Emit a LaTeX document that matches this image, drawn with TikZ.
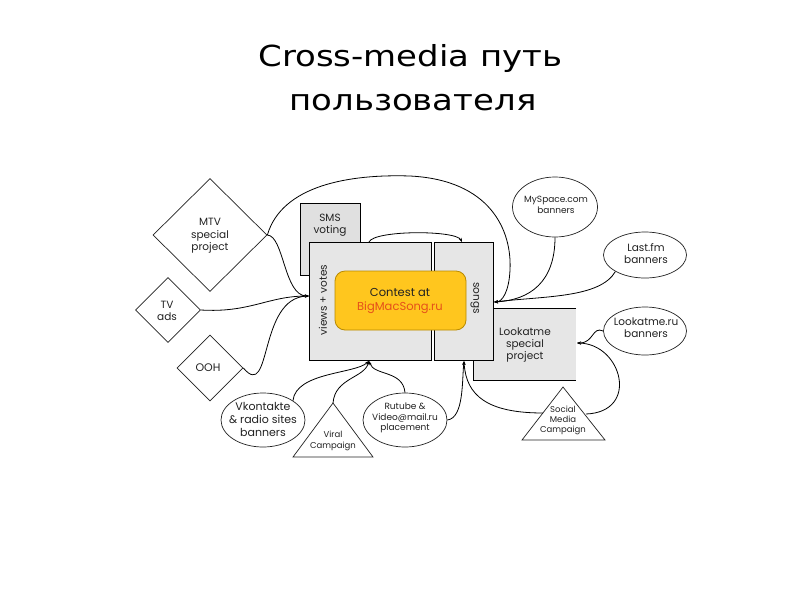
\documentclass[tikz,border=0pt]{standalone}
\usepackage{fontspec}
\setmainfont{DejaVu Sans}
\newfontfamily\dg{Poppins}
\usetikzlibrary{shapes.geometric,arrows.meta}
\definecolor{boxgray}{HTML}{E6E6E6}
\definecolor{smsgray}{HTML}{E0E0E0}
\definecolor{gold}{HTML}{FFC61E}
\definecolor{goldedge}{HTML}{B88A00}
\definecolor{bigmac}{HTML}{E5501A}
\definecolor{ink}{HTML}{222222}
\tikzset{
  lbl/.style={font=\dg, text=ink, align=center, inner sep=0pt},
  dia/.style={draw=ink, diamond, shape aspect=1, inner sep=0pt, line width=0.7pt},
  ell/.style={draw=ink, ellipse, inner sep=0pt, line width=0.7pt},
  grbox/.style={draw=black, fill=boxgray, line width=0.8pt},
  con/.style={draw=black, line width=0.8pt},
  tip/.style={-{Stealth[length=4pt,width=3pt]}},
  ttl/.style={font=\fontsize{29}{34}\selectfont, inner sep=0pt, anchor=base},
}
\begin{document}
\begin{tikzpicture}[x=1pt,y=-1pt]
\useasboundingbox (0,0) rectangle (800,600);
\fill[white] (0,0) rectangle (800,600);
% title
\node[ttl] (title1) at (410.5,66) {\scalebox{1.17}[1]{Cross-media путь}};
\node[ttl] (title2) at (413,110) {\scalebox{1.17}[1]{пользователя}};

% Lookatme box (behind songs)
\fill[boxgray] (473,308) rectangle (576,380);
\draw[line width=0.8pt] (576,308) -- (473,308) -- (473,380) -- (576,380);
\node[lbl, font=\dg\fontsize{10.5}{12}\selectfont] (look) at (525,345) {Lookatme\\special\\project};
\coordinate (lookE) at (577,343);

% SMS box
\draw[grbox, fill=smsgray] (300,203) rectangle (360,275);
\node[lbl, font=\dg\fontsize{10.5}{12}\selectfont] (sms) at (330,225) {SMS\\voting};

% main boxes
\draw[grbox] (309,242) rectangle (431,360);
\draw[grbox] (434,242) rectangle (493,360);
\coordinate (vvW) at (309,296);
\coordinate (vvN) at (369,242);
\coordinate (vvS) at (369,361);
\coordinate (sgN) at (462,242);
\coordinate (sgE) at (494,302);
\coordinate (sgS) at (464,361);
\node[lbl, rotate=90, font=\dg\fontsize{10.5}{12}\selectfont] (vv) at (323,300) {views + votes};
\node[lbl, rotate=-90, font=\dg\fontsize{10.5}{12}\selectfont] (songs) at (475,298) {songs};

% contest
\draw[fill=gold, draw=goldedge, line width=0.8pt, rounded corners=10pt] (335,271) rectangle (466,330);
\node[lbl, font=\dg\fontsize{11.5}{14}\selectfont] (contest) at (400,301) {Contest at\\\textcolor{bigmac}{BigMacSong.ru}};

% diamonds
\node[dia, minimum width=114pt, minimum height=113pt] (mtv) at (210,235) {};
\node[lbl, font=\dg\fontsize{10.5}{12.5}\selectfont] at (210,236) {MTV\\special\\project};
\node[dia, minimum width=65pt, minimum height=65pt] (tv) at (168,310) {};
\node[lbl, font=\dg\fontsize{10.5}{12.5}\selectfont] at (167,311) {TV\\ads};
\node[dia, minimum width=66pt, minimum height=66pt] (ooh) at (210,368) {};
\node[lbl, font=\dg\fontsize{11}{13}\selectfont] at (208,368) {OOH};

% ellipses
\node[ell, minimum width=85pt, minimum height=60pt] (mys) at (555,207) {};
\node[lbl, font=\dg\fontsize{9}{11}\selectfont] at (556,205) {MySpace.com\\banners};
\node[ell, minimum width=83pt, minimum height=46pt] (last) at (645,255) {};
\node[lbl, font=\dg\fontsize{10.5}{12}\selectfont] at (646,254) {Last.fm\\banners};
\node[ell, minimum width=83pt, minimum height=48pt] (lookru) at (645,331) {};
\node[lbl, font=\dg\fontsize{10.5}{12}\selectfont] at (646,328) {Lookatme.ru\\banners};
\node[ell, minimum width=84pt, minimum height=54pt] (vk) at (263,420) {};
\node[lbl, font=\dg\fontsize{11}{13}\selectfont] at (263,419) {Vkontakte\\\& radio sites\\banners};
\node[ell, minimum width=84pt, minimum height=54pt] (rut) at (405,420) {};
\node[lbl, font=\dg\fontsize{9}{10.5}\selectfont] at (405,418) {Rutube \&\\Video@mail.ru\\placement};

% triangles
\coordinate (vA) at (333,403); \coordinate (vL) at (293,457); \coordinate (vR) at (373,457);
\draw[line width=0.7pt, draw=ink] (vA) -- (vL) -- (vR) -- cycle;
\node[lbl, font=\dg\fontsize{8.5}{10.5}\selectfont] (viral) at (333,441) {Viral\\Campaign};
\coordinate (sA) at (563,387); \coordinate (sL) at (522,440); \coordinate (sR) at (605,440);
\draw[line width=0.7pt, draw=ink] (sA) -- (sL) -- (sR) -- cycle;
\node[lbl, font=\dg\fontsize{8.5}{10}\selectfont] (social) at (563,420) {Social\\Media\\Campaign};
\coordinate (sRm) at (586,414);
\coordinate (sLm) at (543,413);

% connectors left
\draw[con, tip] (mtv.east) .. controls (284,236) and (284,296) .. (vvW);
\draw[con, tip] (tv.east) .. controls (250,313) and (268,296) .. (vvW);
\draw[con, tip] (ooh.east) .. controls (272,402) and (258,298) .. (vvW);

% big arc
\draw[con, tip] (mtv.east) .. controls (282,185) and (350,174) .. (410,176)
  .. controls (490,180) and (512,230) .. (510,270)
  .. controls (509,292) and (502,302) .. (sgE);
\draw[con, tip] (mys.south) .. controls (555,282) and (530,300) .. (sgE);
\draw[con, tip] (last.south west) .. controls (600,298) and (545,296) .. (sgE);

% top arc
\draw[con, tip] (vvN) .. controls (374,230) and (456,230) .. (sgN);

% bottom left
\draw[con, tip] (vk.north east) .. controls (296,372) and (355,374) .. (vvS);
\draw[con, tip] (vA) .. controls (335,378) and (364,378) .. (vvS);
\draw[con, tip] (rut.north) .. controls (403,370) and (374,376) .. (vvS);

% bottom right
\draw[con, tip] (rut.east) .. controls (464,418) and (462,380) .. (sgS);
\draw[con, tip] (sLm) .. controls (488,413) and (466,396) .. (sgS);

% lookatme
\draw[con, tip] (lookru.west) .. controls (592,326) and (594,343) .. (lookE);
\draw[con, tip] (sRm) .. controls (640,412) and (622,344) .. (lookE);
\end{tikzpicture}
\end{document}
